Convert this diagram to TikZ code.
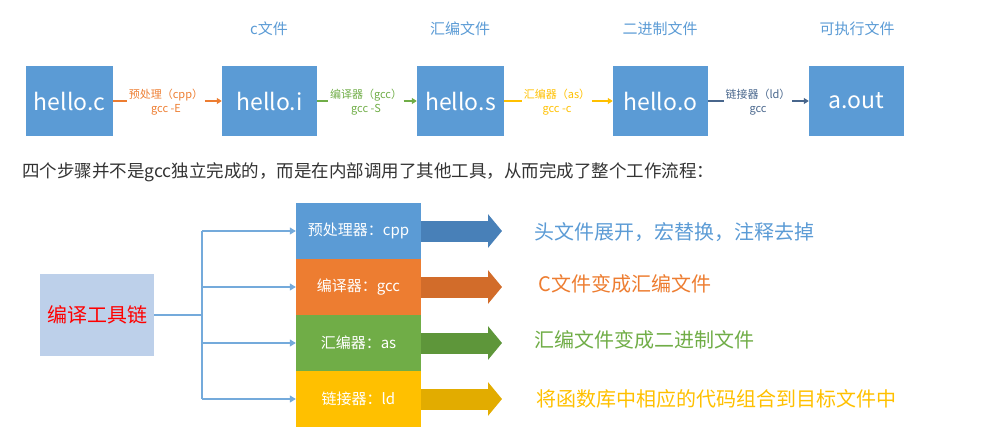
\documentclass[tikz,border=0pt]{standalone}
\usepackage{fontspec}
\setmainfont{Noto Sans CJK SC}
\usetikzlibrary{arrows.meta}
\definecolor{cblue}{RGB}{91,155,213}
\definecolor{corange}{RGB}{237,125,49}
\definecolor{cgreen}{RGB}{112,173,71}
\definecolor{cgold}{RGB}{255,192,0}
\definecolor{cslate}{RGB}{72,102,140}
\definecolor{darrowblue}{RGB}{72,128,184}
\definecolor{darroworange}{RGB}{210,108,42}
\definecolor{darrowgreen}{RGB}{94,150,58}
\definecolor{darrowgold}{RGB}{226,172,0}
\definecolor{cchain}{RGB}{189,208,234}
\definecolor{ctext}{RGB}{51,51,51}
\begin{document}
\begin{tikzpicture}[x=1pt,y=-1pt,
  filebox/.style={fill=cblue, text=white, minimum height=70, inner sep=0pt, font=\fontsize{23}{26}\selectfont},
  ftitle/.style={text=cblue, font=\fontsize{15}{18}\selectfont},
  steplabel/.style={font=\fontsize{11}{14}\selectfont, align=center, inner sep=1.5pt},
  smallarrow/.style={line width=1.2pt, -{Triangle[length=5pt,width=6pt]}},
  toolbox/.style={minimum width=125, minimum height=56, inner sep=0pt, text=white, font=\fontsize{15}{18}\selectfont},
  fatarrow/.style={line width=21pt, -{Triangle[length=14pt,width=33pt]}},
  desc/.style={anchor=west, font=\fontsize{20}{24}\selectfont},
  branch/.style={draw=cblue!85, line width=1.1pt},
  brancharrow/.style={branch, -{Triangle[length=6pt,width=7pt]}}
]
\useasboundingbox (0,0) rectangle (994,444);

% ---- top row ----
\node[filebox, minimum width=87] (hc) at (69.5,101) {hello.c};
\node[filebox, minimum width=95] (hi) at (269.5,101) {hello.i};
\node[filebox, minimum width=87] (hs) at (460.5,101) {hello.s};
\node[filebox, minimum width=95] (ho) at (660.5,101) {hello.o};
\node[filebox, minimum width=95] (ha) at (856.5,101) {a.out};

\node[ftitle] (ti) at (269,29) {c文件};
\node[ftitle] (ts) at (460,29) {汇编文件};
\node[ftitle] (to) at (660,29) {二进制文件};
\node[ftitle] (ta) at (857,29) {可执行文件};

\node[steplabel, text=corange] (l1) at (166,102) {预处理（cpp）\\gcc -E};
\node[steplabel, text=cgreen] (l2) at (366,102) {编译器（gcc）\\gcc -S};
\node[steplabel, text=cgold] (l3) at (557,102) {汇编器（as）\\gcc -c};
\node[steplabel, text=cslate] (l4) at (758,102) {链接器（ld）\\gcc};

\draw[corange, line width=1.2pt] (hc.east) -- (hc.east -| l1.west);
\draw[corange, smallarrow] (hi.west -| l1.east) -- (hi.west);
\draw[cgreen, line width=1.2pt] (hi.east) -- (hi.east -| l2.west);
\draw[cgreen, smallarrow] (hs.west -| l2.east) -- (hs.west);
\draw[cgold, line width=1.2pt] (hs.east) -- (hs.east -| l3.west);
\draw[cgold, smallarrow] (ho.west -| l3.east) -- (ho.west);
\draw[cslate, line width=1.2pt] (ho.east) -- (ho.east -| l4.west);
\draw[cslate, smallarrow] (ha.west -| l4.east) -- (ha.west);

% ---- sentence ----
\node[anchor=west, text=ctext, inner sep=0pt, font=\fontsize{17.5}{20}\selectfont] (sent) at (22,172)
  {四个步骤并不是gcc独立完成的，而是在内部调用了其他工具，从而完成了整个工作流程：};

% ---- tool chain ----
\node[fill=cchain, minimum width=114, minimum height=82, inner sep=0pt,
      text=red, font=\fontsize{20}{24}\selectfont] (chain) at (97,315) {编译工具链};

\node[toolbox, fill=cblue] (cpp) at (358.5,231) {预处理器：cpp};
\node[toolbox, fill=corange] (gcc) at (358.5,287) {编译器：gcc};
\node[toolbox, fill=cgreen] (as) at (358.5,343) {汇编器：as};
\node[toolbox, fill=cgold] (ld) at (358.5,399) {链接器：ld};

\coordinate (bx) at (202,315);
\draw[branch] (chain.east) -- (bx);
\draw[branch] (bx |- cpp.west) -- (bx |- ld.west);
\draw[brancharrow] (bx |- cpp.west) -- (cpp.west);
\draw[brancharrow] (bx |- gcc.west) -- (gcc.west);
\draw[brancharrow] (bx |- as.west) -- (as.west);
\draw[brancharrow] (bx |- ld.west) -- (ld.west);

\coordinate (e1) at (502,231);
\coordinate (e2) at (502,287);
\coordinate (e3) at (502,343);
\coordinate (e4) at (502,399);
\draw[fatarrow, darrowblue] (cpp.east) -- (e1);
\draw[fatarrow, darroworange] (gcc.east) -- (e2);
\draw[fatarrow, darrowgreen] (as.east) -- (e3);
\draw[fatarrow, darrowgold] (ld.east) -- (e4);

\node[desc, text=cblue] (d1) at (531,232) {头文件展开，宏替换，注释去掉};
\node[desc, text=corange] (d2) at (535,284) {C文件变成汇编文件};
\node[desc, text=cgreen] (d3) at (531,340) {汇编文件变成二进制文件};
\node[desc, text=cgold] (d4) at (533,399) {将函数库中相应的代码组合到目标文件中};
\end{tikzpicture}
\end{document}
